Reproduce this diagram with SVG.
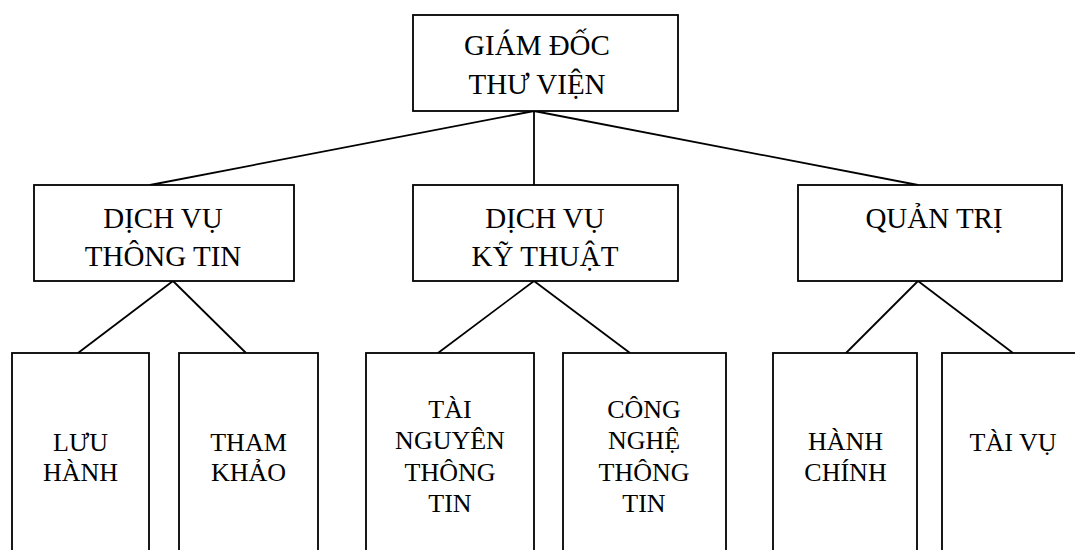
<svg xmlns="http://www.w3.org/2000/svg" width="1075" height="550" viewBox="0 0 1075 550">
<style>
.box{fill:#fff;stroke:#000;stroke-width:1.8}
.ln{stroke:#000;stroke-width:1.8;fill:none}
text{font-family:"Liberation Serif","Times New Roman",serif;fill:#000;text-anchor:middle}
.t2{font-size:29px}
.t3{font-size:26px}
</style>
<rect width="1075" height="550" fill="#fff"/>
<g id="connectors">
<line class="ln" x1="534" y1="111" x2="150" y2="185"/>
<line class="ln" x1="534" y1="111" x2="534" y2="185"/>
<line class="ln" x1="534" y1="111" x2="918" y2="185"/>
<line class="ln" x1="173" y1="281" x2="78" y2="353"/>
<line class="ln" x1="173" y1="281" x2="246" y2="353"/>
<line class="ln" x1="534" y1="281" x2="438" y2="353"/>
<line class="ln" x1="534" y1="281" x2="630" y2="353"/>
<line class="ln" x1="918" y1="281" x2="846" y2="353"/>
<line class="ln" x1="918" y1="281" x2="1013" y2="353"/>
</g>
<g id="giam-doc">
<rect class="box" x="413" y="15" width="265" height="96"/>
<text class="t2" x="537" y="55">GIÁM ĐỐC</text>
<text class="t2" x="537" y="94">THƯ VIỆN</text>
</g>
<g id="dich-vu-thong-tin">
<rect class="box" x="34" y="185" width="260" height="96"/>
<text class="t2" x="163" y="228">DỊCH VỤ</text>
<text class="t2" x="163" y="266">THÔNG TIN</text>
</g>
<g id="dich-vu-ky-thuat">
<rect class="box" x="413" y="185" width="265" height="96"/>
<text class="t2" x="545" y="228">DỊCH VỤ</text>
<text class="t2" x="545" y="266">KỸ THUẬT</text>
</g>
<g id="quan-tri">
<rect class="box" x="798" y="185" width="264" height="96"/>
<text class="t2" x="934" y="228">QUẢN TRỊ</text>
</g>
<g id="luu-hanh">
<rect class="box" x="12" y="353" width="137" height="210"/>
<text class="t3" x="80.5" y="451">LƯU</text>
<text class="t3" x="80.5" y="481">HÀNH</text>
</g>
<g id="tham-khao">
<rect class="box" x="179" y="353" width="139" height="210"/>
<text class="t3" x="248.5" y="451">THAM</text>
<text class="t3" x="248.5" y="481">KHẢO</text>
</g>
<g id="tai-nguyen-thong-tin">
<rect class="box" x="366" y="353" width="168" height="210"/>
<text class="t3" x="450" y="418">TÀI</text>
<text class="t3" x="450" y="449">NGUYÊN</text>
<text class="t3" x="450" y="481">THÔNG</text>
<text class="t3" x="450" y="512">TIN</text>
</g>
<g id="cong-nghe-thong-tin">
<rect class="box" x="563" y="353" width="163" height="210"/>
<text class="t3" x="644" y="418">CÔNG</text>
<text class="t3" x="644" y="449">NGHỆ</text>
<text class="t3" x="644" y="481">THÔNG</text>
<text class="t3" x="644" y="512">TIN</text>
</g>
<g id="hanh-chinh">
<rect class="box" x="773" y="353" width="144" height="210"/>
<text class="t3" x="845.5" y="450">HÀNH</text>
<text class="t3" x="845.5" y="481">CHÍNH</text>
</g>
<g id="tai-vu">
<rect class="box" x="942" y="353" width="142" height="210"/>
<text class="t3" x="1013" y="451">TÀI VỤ</text>
</g>
</svg>
